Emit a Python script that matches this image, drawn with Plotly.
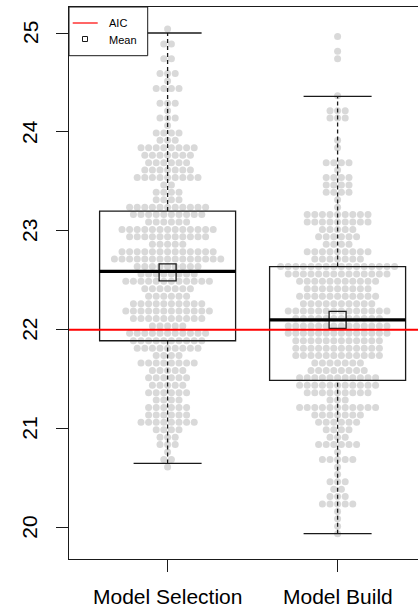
import plotly.graph_objects as go

# Two model-fitting strategies compared on the same criterion
groups = ["Model Selection", "Model Build"]
group_pos = [1, 2]

# Distinct criterion values (rows of the swarm) and how many runs hit each one
levels = [25.040, 24.965, 24.890, 24.815, 24.740, 24.665, 24.590, 24.515, 24.440, 24.365,
          24.290, 24.215, 24.140, 24.065, 23.990, 23.915, 23.840, 23.765, 23.690, 23.615,
          23.540, 23.465, 23.390, 23.315, 23.240, 23.165, 23.090, 23.015, 22.940, 22.865,
          22.790, 22.715, 22.640, 22.565, 22.490, 22.415, 22.340, 22.265, 22.190, 22.115,
          22.040, 21.965, 21.890, 21.815, 21.740, 21.665, 21.590, 21.515, 21.440, 21.365,
          21.290, 21.215, 21.140, 21.065, 20.990, 20.915, 20.840, 20.765, 20.690, 20.615,
          20.540, 20.465, 20.390, 20.315, 20.240, 20.165, 20.090, 20.015, 19.940]

ms_counts = [1, 0, 2, 0, 2, 0, 3, 1, 4, 0,
             3, 1, 3, 1, 4, 3, 8, 7, 6, 7,
             9, 2, 4, 4, 11, 10, 6, 13, 11, 5,
             13, 15, 9, 8, 12, 7, 6, 10, 12, 10,
             5, 11, 10, 9, 4, 8, 5, 6, 5, 6,
             4, 6, 6, 8, 4, 3, 3, 1, 2, 1]

mb_counts = [0, 1, 0, 1, 1, 0, 0, 0, 0, 1,
             0, 3, 3, 0, 0, 1, 1, 0, 4, 1,
             4, 4, 4, 1, 1, 9, 9, 5, 6, 4,
             9, 7, 16, 14, 11, 9, 11, 10, 14, 12,
             14, 14, 12, 12, 12, 7, 8, 11, 11, 9,
             3, 11, 7, 6, 4, 3, 6, 1, 5, 1,
             1, 3, 2, 3, 5, 1, 1, 1, 1]

# Box-plot summaries
q1 = [21.89, 21.49]
medians = [22.59, 22.10]
q3 = [23.20, 22.64]
lower_whisker = [20.65, 19.94]
upper_whisker = [25.00, 24.36]
means = [22.58, 22.10]

aic = 22.0
y_ticks = [20, 21, 22, 23, 24, 25]

# ---- layout geometry (pixels) ----
W, H = 418, 609
L, T, B = 69, 7, 50
plot_w = W - L
plot_h = H - T - B
x_range = [0.42, 0.42 + plot_w / 170.0]
y_range = [19.684, 25.263]

def paper_x(px):
    return (px - L) / plot_w

def paper_y(py):
    return 1 - (py - T) / plot_h

FONT = "Liberation Sans, Arial, sans-serif"
INK = "#1a1a1a"

fig = go.Figure()

# Swarm of individual runs, centred row by row on each group
dot_step = 0.0447
for pos, counts in zip(group_pos, [ms_counts, mb_counts]):
    xs, ys = [], []
    for lvl, n in zip(levels, counts):
        for k in range(n):
            xs.append(pos + (k - (n - 1) / 2) * dot_step)
            ys.append(lvl)
    fig.add_trace(go.Scatter(
        x=xs, y=ys, mode="markers",
        marker=dict(size=7, color="#d9d9d9", line=dict(width=0)),
        hoverinfo="skip", showlegend=False,
    ))

# Box, whiskers and median drawn on the data axes
half_box = 0.4
half_cap = 0.2
shapes = []
for i, pos in enumerate(group_pos):
    shapes.append(dict(type="rect", xref="x", yref="y",
                       x0=pos - half_box, x1=pos + half_box, y0=q1[i], y1=q3[i],
                       line=dict(color=INK, width=1.3), fillcolor="rgba(0,0,0,0)"))
    shapes.append(dict(type="line", xref="x", yref="y",
                       x0=pos, x1=pos, y0=q3[i], y1=upper_whisker[i],
                       line=dict(color=INK, width=1.3, dash="4px,3px")))
    shapes.append(dict(type="line", xref="x", yref="y",
                       x0=pos, x1=pos, y0=lower_whisker[i], y1=q1[i],
                       line=dict(color=INK, width=1.3, dash="4px,3px")))
    for v in (upper_whisker[i], lower_whisker[i]):
        shapes.append(dict(type="line", xref="x", yref="y",
                           x0=pos - half_cap, x1=pos + half_cap, y0=v, y1=v,
                           line=dict(color=INK, width=1.3)))
    shapes.append(dict(type="line", xref="x", yref="y",
                       x0=pos - half_box, x1=pos + half_box, y0=medians[i], y1=medians[i],
                       line=dict(color="#000000", width=3.2)))

# Reference criterion value
shapes.append(dict(type="line", xref="paper", yref="y", x0=0, x1=1, y0=aic, y1=aic,
                   line=dict(color="#ff0000", width=2)))

# Legend panel
shapes.append(dict(type="rect", xref="paper", yref="paper",
                   x0=paper_x(69), x1=paper_x(147.7), y0=paper_y(55.7), y1=paper_y(7),
                   line=dict(color=INK, width=1), fillcolor="white"))
shapes.append(dict(type="line", xref="paper", yref="paper",
                   x0=paper_x(72.7), x1=paper_x(97.7), y0=paper_y(23), y1=paper_y(23),
                   line=dict(color="#ff0000", width=1.2)))
shapes.append(dict(type="rect", xref="paper", yref="paper",
                   x0=paper_x(82.5), x1=paper_x(87.5), y0=paper_y(41.5), y1=paper_y(36.5),
                   line=dict(color=INK, width=1), fillcolor="rgba(0,0,0,0)"))

# Group means
fig.add_trace(go.Scatter(
    x=group_pos, y=means, mode="markers",
    marker=dict(symbol="square-open", size=17, color=INK, line=dict(width=1.3)),
    hoverinfo="skip", showlegend=False,
))

annotations = []
annotations.append(dict(text="AIC", xref="paper", yref="paper",
                        x=paper_x(107), y=paper_y(23.5), xanchor="left", yanchor="middle",
                        showarrow=False, font=dict(family=FONT, size=11, color="#000")))
annotations.append(dict(text="Mean", xref="paper", yref="paper",
                        x=paper_x(107), y=paper_y(40), xanchor="left", yanchor="middle",
                        showarrow=False, font=dict(family=FONT, size=11, color="#000")))

for v in y_ticks:
    annotations.append(dict(text=str(v), xref="paper", yref="y",
                            x=paper_x(30), y=v, xanchor="center", yanchor="middle",
                            textangle=-90, showarrow=False,
                            font=dict(family=FONT, size=21, color="#000")))
for name, pos in zip(groups, group_pos):
    annotations.append(dict(text=name, xref="x", yref="paper",
                            x=pos, y=paper_y(596.5), xanchor="center", yanchor="middle",
                            showarrow=False,
                            font=dict(family=FONT, size=21, color="#000")))

fig.update_layout(
    width=W, height=H,
    margin=dict(l=L, r=0, t=T, b=B, pad=0),
    paper_bgcolor="white", plot_bgcolor="white",
    showlegend=False,
    shapes=shapes, annotations=annotations,
    xaxis=dict(range=x_range, tickvals=group_pos, showticklabels=False,
               ticks="outside", ticklen=12, tickwidth=1, tickcolor=INK,
               showline=True, mirror=True, linecolor=INK, linewidth=1,
               showgrid=False, zeroline=False, fixedrange=True),
    yaxis=dict(range=y_range, tickvals=y_ticks, showticklabels=False,
               ticks="outside", ticklen=12, tickwidth=1, tickcolor=INK,
               showline=True, linecolor=INK, linewidth=1,
               showgrid=False, zeroline=False, fixedrange=True),
)

fig.write_html("out.html")
